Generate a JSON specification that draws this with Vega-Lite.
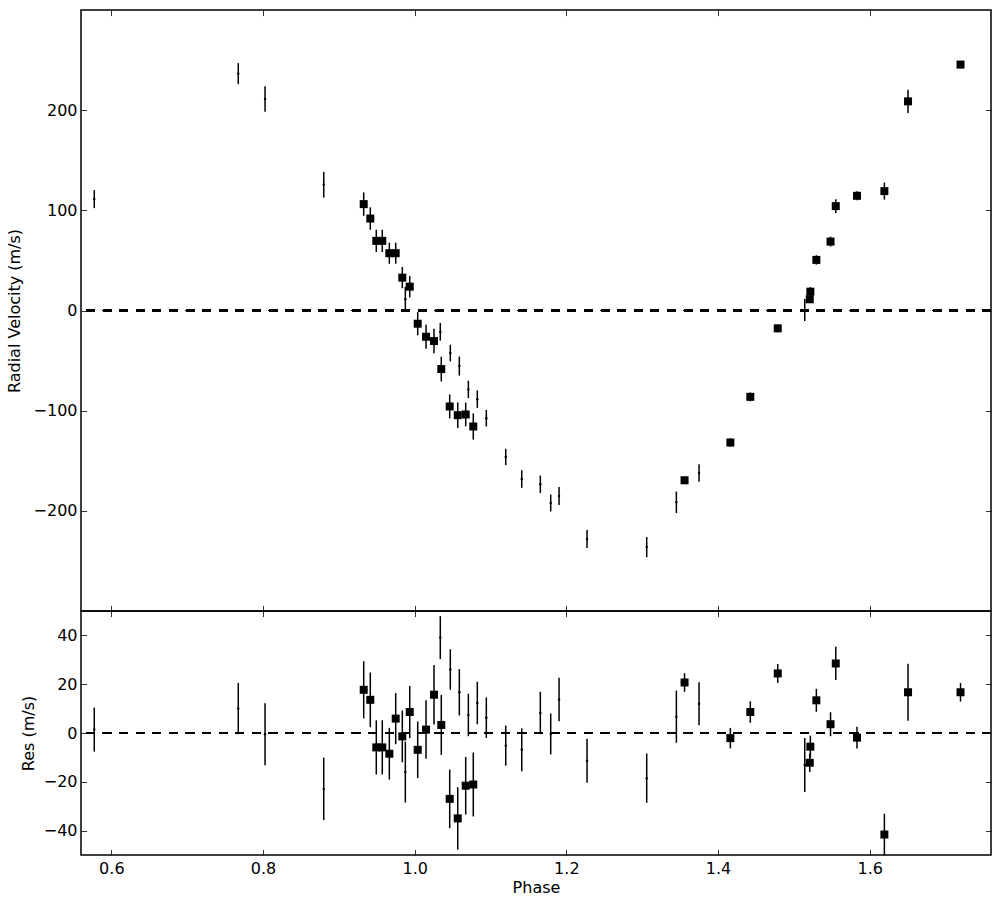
{
  "$schema": "https://vega.github.io/schema/vega-lite/v6.json",
  "padding": {"left": 5, "top": 8, "right": 10, "bottom": 5},
  "background": "white",
  "data": {"values": [
    {"inst": "A", "phase": 0.5775, "rv": 111.2, "res": 1.4, "err": 9.0},
    {"inst": "A", "phase": 0.7674, "rv": 236.5, "res": 10.0, "err": 10.5},
    {"inst": "A", "phase": 0.8027, "rv": 211.2, "res": -0.5, "err": 12.7},
    {"inst": "A", "phase": 0.8801, "rv": 125.5, "res": -22.9, "err": 12.8},
    {"inst": "A", "phase": 0.9877, "rv": 11.2, "res": -16.0, "err": 12.5},
    {"inst": "A", "phase": 1.0338, "rv": -21.2, "res": 39.1, "err": 8.8},
    {"inst": "A", "phase": 1.0470, "rv": -42.5, "res": 26.0, "err": 8.3},
    {"inst": "A", "phase": 1.0589, "rv": -55.5, "res": 16.7, "err": 9.5},
    {"inst": "A", "phase": 1.0708, "rv": -78.8, "res": 7.4, "err": 8.7},
    {"inst": "A", "phase": 1.0826, "rv": -88.5, "res": 12.3, "err": 8.7},
    {"inst": "A", "phase": 1.0945, "rv": -107.5, "res": 6.3, "err": 8.3},
    {"inst": "A", "phase": 1.1201, "rv": -146.2, "res": -5.2, "err": 8.2},
    {"inst": "A", "phase": 1.1412, "rv": -168.2, "res": -6.9, "err": 8.8},
    {"inst": "A", "phase": 1.1657, "rv": -173.5, "res": 8.2, "err": 8.7},
    {"inst": "A", "phase": 1.1794, "rv": -192.2, "res": -0.4, "err": 8.4},
    {"inst": "A", "phase": 1.1904, "rv": -185.2, "res": 13.7, "err": 8.9},
    {"inst": "A", "phase": 1.2273, "rv": -228.2, "res": -11.4, "err": 9.0},
    {"inst": "A", "phase": 1.3060, "rv": -236.2, "res": -18.5, "err": 10.1},
    {"inst": "A", "phase": 1.3451, "rv": -191.5, "res": 6.7, "err": 10.7},
    {"inst": "A", "phase": 1.3750, "rv": -162.2, "res": 12.0, "err": 8.8},
    {"inst": "A", "phase": 1.5144, "rv": 0.5, "res": -13.1, "err": 11.1},
    {"inst": "B", "phase": 0.9328, "rv": 106.2, "res": 17.7, "err": 11.7},
    {"inst": "B", "phase": 0.9415, "rv": 91.8, "res": 13.6, "err": 11.2},
    {"inst": "B", "phase": 0.9494, "rv": 69.5, "res": -5.9, "err": 11.1},
    {"inst": "B", "phase": 0.9573, "rv": 69.5, "res": -5.9, "err": 11.1},
    {"inst": "B", "phase": 0.9666, "rv": 57.2, "res": -8.5, "err": 10.6},
    {"inst": "B", "phase": 0.9750, "rv": 57.2, "res": 5.9, "err": 10.5},
    {"inst": "B", "phase": 0.9837, "rv": 32.8, "res": -1.4, "err": 10.6},
    {"inst": "B", "phase": 0.9935, "rv": 23.8, "res": 8.6, "err": 10.7},
    {"inst": "B", "phase": 1.0040, "rv": -13.2, "res": -6.9, "err": 11.6},
    {"inst": "B", "phase": 1.0150, "rv": -26.2, "res": 1.4, "err": 12.0},
    {"inst": "B", "phase": 1.0255, "rv": -30.5, "res": 15.7, "err": 12.2},
    {"inst": "B", "phase": 1.0351, "rv": -58.5, "res": 3.3, "err": 12.3},
    {"inst": "B", "phase": 1.0462, "rv": -95.8, "res": -27.0, "err": 12.0},
    {"inst": "B", "phase": 1.0568, "rv": -104.5, "res": -35.0, "err": 12.8},
    {"inst": "B", "phase": 1.0673, "rv": -103.8, "res": -21.6, "err": 11.8},
    {"inst": "B", "phase": 1.0773, "rv": -115.8, "res": -21.1, "err": 13.1},
    {"inst": "B", "phase": 1.3559, "rv": -169.5, "res": 20.7, "err": 3.8},
    {"inst": "B", "phase": 1.4163, "rv": -131.8, "res": -2.1, "err": 4.2},
    {"inst": "B", "phase": 1.4426, "rv": -86.2, "res": 8.6, "err": 4.4},
    {"inst": "B", "phase": 1.4788, "rv": -17.8, "res": 24.4, "err": 3.9},
    {"inst": "B", "phase": 1.5210, "rv": 11.2, "res": -12.2, "err": 3.8},
    {"inst": "B", "phase": 1.5218, "rv": 18.8, "res": -5.6, "err": 4.5},
    {"inst": "B", "phase": 1.5297, "rv": 50.5, "res": 13.4, "err": 4.7},
    {"inst": "B", "phase": 1.5484, "rv": 68.8, "res": 3.6, "err": 4.9},
    {"inst": "B", "phase": 1.5553, "rv": 104.2, "res": 28.5, "err": 6.8},
    {"inst": "B", "phase": 1.5833, "rv": 114.5, "res": -1.9, "err": 4.5},
    {"inst": "B", "phase": 1.6194, "rv": 119.2, "res": -41.6, "err": 8.5},
    {"inst": "B", "phase": 1.6506, "rv": 208.8, "res": 16.7, "err": 11.7},
    {"inst": "B", "phase": 1.7198, "rv": 245.5, "res": 16.7, "err": 3.8}
  ]},
  "spacing": 0,
  "bounds": "flush",
  "vconcat": [
    {
      "width": 910,
      "height": 601,
      "layer": [
        {
          "mark": {"type": "rule", "strokeDash": [8.3, 8.3], "color": "black", "strokeWidth": 1.4},
          "encoding": {
            "y": {"datum": 0, "type": "quantitative", "scale": {"domain": [-300, 300], "nice": false, "zero": false}, "axis": null}
          }
        },
        {
          "mark": {"type": "errorbar", "color": "black", "thickness": 1.5},
          "encoding": {
            "x": {"field": "phase", "type": "quantitative", "scale": {"domain": [0.56, 1.76], "nice": false, "zero": false},
                  "axis": {"orient": "bottom", "labels": false, "title": null, "values": [0.6, 0.8, 1.0, 1.2, 1.4, 1.6]}},
            "y": {"field": "rv", "type": "quantitative", "scale": {"domain": [-300, 300], "nice": false, "zero": false},
                  "axis": {"orient": "left", "title": "Radial Velocity (m/s)", "values": [-200, -100, 0, 100, 200], "format": "d", "titlePadding": 11}},
            "yError": {"field": "err"}
          }
        },
        {
          "transform": [{"filter": "datum.inst === 'B'"}],
          "mark": {"type": "point", "shape": "square", "filled": true, "size": 64, "color": "black", "opacity": 1},
          "encoding": {
            "x": {"field": "phase", "type": "quantitative", "scale": {"domain": [0.56, 1.76], "nice": false, "zero": false},
                  "axis": {"orient": "top", "labels": false, "title": null, "values": [0.6, 0.8, 1.0, 1.2, 1.4, 1.6]}},
            "y": {"field": "rv", "type": "quantitative", "scale": {"domain": [-300, 300], "nice": false, "zero": false},
                  "axis": {"orient": "right", "labels": false, "title": null, "values": [-200, -100, 0, 100, 200]}}
          }
        },
        {
          "transform": [{"filter": "datum.inst === 'A'"}],
          "mark": {"type": "point", "shape": "circle", "filled": true, "size": 6, "color": "black", "opacity": 1},
          "encoding": {
            "x": {"field": "phase", "type": "quantitative", "axis": null},
            "y": {"field": "rv", "type": "quantitative", "axis": null}
          }
        }
      ],
      "resolve": {"axis": {"x": "independent", "y": "independent"}}
    },
    {
      "width": 910,
      "height": 244,
      "layer": [
        {
          "mark": {"type": "rule", "strokeDash": [8.3, 8.3], "color": "black", "strokeWidth": 1.2},
          "encoding": {
            "y": {"datum": 0, "type": "quantitative", "scale": {"domain": [-50, 50], "nice": false, "zero": false}, "axis": null}
          }
        },
        {
          "mark": {"type": "errorbar", "color": "black", "thickness": 1.5},
          "encoding": {
            "x": {"field": "phase", "type": "quantitative", "scale": {"domain": [0.56, 1.76], "nice": false, "zero": false},
                  "axis": {"orient": "bottom", "title": "Phase", "values": [0.6, 0.8, 1.0, 1.2, 1.4, 1.6], "format": ".1f", "labelPadding": 10.6, "titlePadding": 3, "labelFlush": false}},
            "y": {"field": "res", "type": "quantitative", "scale": {"domain": [-50, 50], "nice": false, "zero": false},
                  "axis": {"orient": "left", "title": "Res (m/s)", "values": [-40, -20, 0, 20, 40], "format": "d", "titlePadding": 7}},
            "yError": {"field": "err"}
          }
        },
        {
          "transform": [{"filter": "datum.inst === 'B'"}],
          "mark": {"type": "point", "shape": "square", "filled": true, "size": 64, "color": "black", "opacity": 1},
          "encoding": {
            "x": {"field": "phase", "type": "quantitative", "scale": {"domain": [0.56, 1.76], "nice": false, "zero": false},
                  "axis": {"orient": "top", "labels": false, "title": null, "values": [0.6, 0.8, 1.0, 1.2, 1.4, 1.6]}},
            "y": {"field": "res", "type": "quantitative", "scale": {"domain": [-50, 50], "nice": false, "zero": false},
                  "axis": {"orient": "right", "labels": false, "title": null, "values": [-40, -20, 0, 20, 40]}}
          }
        },
        {
          "transform": [{"filter": "datum.inst === 'A'"}],
          "mark": {"type": "point", "shape": "circle", "filled": true, "size": 6, "color": "black", "opacity": 1},
          "encoding": {
            "x": {"field": "phase", "type": "quantitative", "axis": null},
            "y": {"field": "res", "type": "quantitative", "axis": null}
          }
        }
      ],
      "resolve": {"axis": {"x": "independent", "y": "independent"}}
    }
  ],
  "config": {
    "font": "DejaVu Sans",
    "view": {"stroke": "black", "strokeWidth": 1.5},
    "axis": {
      "grid": false, "domain": false, "tickColor": "black", "tickWidth": 0.8, "tickSize": -5.6,
      "labelFontSize": 16, "labelColor": "black", "labelPadding": 9.6,
      "titleFontSize": 16, "titleFontWeight": "normal", "titleColor": "black"
    }
  }
}
